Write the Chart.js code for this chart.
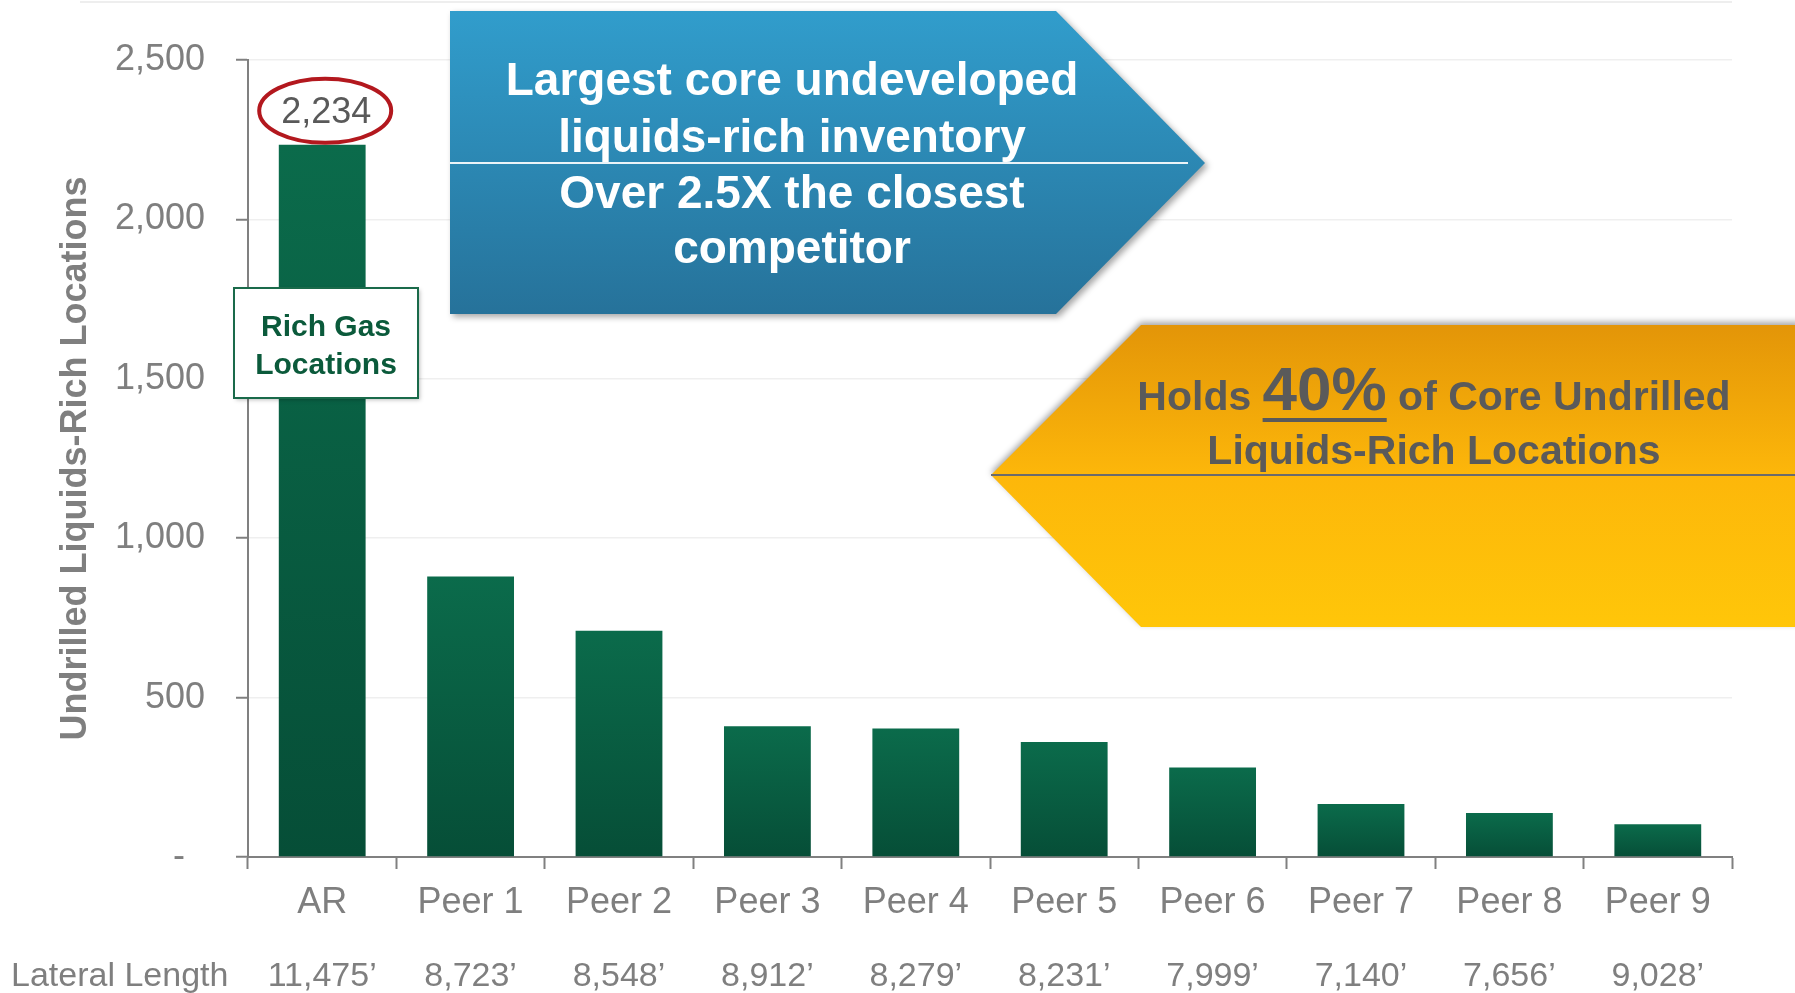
<!DOCTYPE html>
<html>
<head>
<meta charset="utf-8">
<script src="https://cdn.jsdelivr.net/npm/chart.js@4.4.1/dist/chart.umd.min.js"></script>
<style>
  html, body { margin: 0; padding: 0; background: #ffffff; }
  #wrap { width: 1795px; height: 993px; position: relative; }
</style>
</head>
<body>
<div id="wrap"><canvas id="invChart" width="1795" height="993"></canvas></div>
<script>
/* ── Data ── */
const companies = ['AR', 'Peer 1', 'Peer 2', 'Peer 3', 'Peer 4', 'Peer 5', 'Peer 6', 'Peer 7', 'Peer 8', 'Peer 9'];
const locations = [2234, 880, 710, 410, 403, 361, 281, 166, 138, 103];
const lateralLengths = ['11,475’', '8,723’', '8,548’', '8,912’', '8,279’', '8,231’', '7,999’', '7,140’', '7,656’', '9,028’'];
const yTicks = [0, 500, 1000, 1500, 2000, 2500];

const FONT = "'Liberation Sans', Arial, sans-serif";
const GREY = '#7f7f7f';

/* bar fill: each bar gets its own top-to-bottom gradient */
function barFill(ctx) {
    const chart = ctx.chart;
    const y = chart.scales.y;
    if (!chart.chartArea || !y || ctx.raw == null) return '#0a5c40';
    const top = y.getPixelForValue(ctx.raw);
    const bottom = y.getPixelForValue(0);
    const g = chart.ctx.createLinearGradient(0, top, 0, bottom);
    g.addColorStop(0, '#0b6b4b');
    g.addColorStop(1, '#064e37');
    return g;
}

/* ── Overlays: callouts, arrows, lateral length row ── */
const overlayPlugin = {
    id: 'overlays',
    beforeDraw(chart) {
        // faint slide rule along the top
        const c = chart.ctx;
        c.save();
        c.strokeStyle = '#eeeeee';
        c.lineWidth = 2;
        c.beginPath();
        c.moveTo(80, 2);
        c.lineTo(1732, 2);
        c.stroke();
        c.restore();
    },
    afterDraw(chart) {
        const c = chart.ctx;
        const x = chart.scales.x;
        const y = chart.scales.y;

        // value label with red ellipse on AR
        const arX = x.getPixelForValue(0);
        const arTop = y.getPixelForValue(locations[0]);
        c.save();
        c.font = `36px ${FONT}`;
        c.fillStyle = '#595959';
        c.textAlign = 'center';
        c.textBaseline = 'middle';
        c.fillText(locations[0].toLocaleString('en-US'), arX + 4, arTop - 32);
        c.beginPath();
        c.ellipse(arX + 3, arTop - 34, 66, 32, 0, 0, Math.PI * 2);
        c.strokeStyle = '#b3181e';
        c.lineWidth = 4;
        c.stroke();
        c.restore();

        // "Rich Gas Locations" box
        c.save();
        c.shadowColor = 'rgba(0,0,0,0.25)';
        c.shadowBlur = 4;
        c.shadowOffsetX = 2;
        c.shadowOffsetY = 2;
        c.fillStyle = '#ffffff';
        c.fillRect(234, 288, 184, 110);
        c.shadowColor = 'transparent';
        c.strokeStyle = '#1a6a4a';
        c.lineWidth = 2;
        c.strokeRect(234, 288, 184, 110);
        c.fillStyle = '#0b5a3b';
        c.font = `bold 30px ${FONT}`;
        c.textAlign = 'center';
        c.textBaseline = 'alphabetic';
        c.fillText('Rich Gas', 326, 336);
        c.fillText('Locations', 326, 374);
        c.restore();

        // blue arrow (pointing right)
        c.save();
        c.beginPath();
        c.moveTo(450, 11);
        c.lineTo(1056, 11);
        c.lineTo(1205, 163);
        c.lineTo(1056, 314);
        c.lineTo(450, 314);
        c.closePath();
        const gb = c.createLinearGradient(0, 11, 0, 314);
        gb.addColorStop(0, '#319dcc');
        gb.addColorStop(1, '#26729a');
        c.shadowColor = 'rgba(0,0,0,0.35)';
        c.shadowBlur = 6;
        c.shadowOffsetX = 3;
        c.shadowOffsetY = 3;
        c.fillStyle = gb;
        c.fill();
        c.shadowColor = 'transparent';
        c.strokeStyle = 'rgba(255,255,255,0.9)';
        c.lineWidth = 2;
        c.beginPath();
        c.moveTo(450, 163);
        c.lineTo(1188, 163);
        c.stroke();
        c.fillStyle = '#ffffff';
        c.font = `bold 46px ${FONT}`;
        c.textAlign = 'center';
        c.textBaseline = 'alphabetic';
        c.fillText('Largest core undeveloped', 792, 95);
        c.fillText('liquids-rich inventory', 792, 152);
        c.fillText('Over 2.5X the closest', 792, 208);
        c.fillText('competitor', 792, 263);
        c.restore();

        // orange arrow (pointing left, runs off the right edge)
        c.save();
        c.beginPath();
        c.moveTo(1141, 325);
        c.lineTo(1800, 325);
        c.lineTo(1800, 627);
        c.lineTo(1141, 627);
        c.lineTo(991, 475);
        c.closePath();
        const go = c.createLinearGradient(0, 325, 0, 627);
        go.addColorStop(0, '#e39508');
        go.addColorStop(0.5, '#fdb70a');
        go.addColorStop(1, '#ffc609');
        c.shadowColor = 'rgba(0,0,0,0.35)';
        c.shadowBlur = 6;
        c.shadowOffsetX = 0;
        c.shadowOffsetY = -3;
        c.fillStyle = go;
        c.fill();
        c.shadowColor = 'transparent';
        c.strokeStyle = '#6b6b6b';
        c.lineWidth = 2;
        c.beginPath();
        c.moveTo(991, 475);
        c.lineTo(1795, 475);
        c.stroke();

        c.fillStyle = '#5a5a5a';
        c.textBaseline = 'alphabetic';
        c.textAlign = 'left';
        const small = `bold 41px ${FONT}`;
        const big = `bold 62px ${FONT}`;
        const parts = [['Holds ', small], ['40%', big], [' of Core Undrilled', small]];
        let total = 0;
        parts.forEach(p => { c.font = p[1]; total += c.measureText(p[0]).width; });
        let px = 1434 - total / 2;
        parts.forEach(p => {
            c.font = p[1];
            const w = c.measureText(p[0]).width;
            c.fillText(p[0], px, 410);
            if (p[0] === '40%') c.fillRect(px, 418, w, 4);
            px += w;
        });
        c.font = small;
        c.textAlign = 'center';
        c.fillText('Liquids-Rich Locations', 1434, 464);
        c.restore();

        // lateral length row
        c.save();
        c.font = `34px ${FONT}`;
        c.fillStyle = GREY;
        c.textBaseline = 'middle';
        c.textAlign = 'left';
        c.fillText('Lateral Length', 11, 977);
        c.textAlign = 'center';
        lateralLengths.forEach((t, i) => c.fillText(t, x.getPixelForValue(i), 977));
        c.restore();
    }
};

new Chart(document.getElementById('invChart'), {
    type: 'bar',
    data: {
        labels: companies,
        datasets: [{
            label: 'Undrilled Liquids-Rich Locations',
            data: locations,
            backgroundColor: barFill,
            borderWidth: 0,
            barPercentage: 0.585,
            categoryPercentage: 1
        }]
    },
    options: {
        responsive: false,
        animation: false,
        devicePixelRatio: 1,
        layout: { padding: { top: 60, right: 63, left: 0, bottom: 0 } },
        plugins: { legend: { display: false }, tooltip: { enabled: false } },
        scales: {
            x: {
                offset: true,
                grid: {
                    offset: true,
                    drawOnChartArea: false,
                    drawTicks: true,
                    tickLength: 12,
                    tickColor: '#808080',
                    tickWidth: 2
                },
                border: { color: '#808080', width: 2 },
                ticks: { color: GREY, font: { size: 36, family: FONT }, padding: 12 },
                afterFit(scale) { scale.height = 136; }
            },
            y: {
                min: 0, max: 2500,
                afterBuildTicks(scale) { scale.ticks = yTicks.map(v => ({ value: v })); },
                grid: {
                    color: '#efefef',
                    lineWidth: 1.5,
                    tickLength: 12,
                    tickColor: '#808080',
                    tickWidth: 2
                },
                border: { color: '#808080', width: 2 },
                ticks: {
                    color: GREY,
                    font: { size: 36, family: FONT },
                    padding: 31,
                    callback: v => v === 0 ? '-  ' : v.toLocaleString('en-US')
                },
                title: {
                    display: true,
                    text: 'Undrilled Liquids-Rich Locations',
                    color: GREY,
                    font: { size: 36, weight: 'bold', family: FONT },
                    padding: { top: 54, bottom: 0 }
                },
                afterFit(scale) { scale.width = 248; }
            }
        }
    },
    plugins: [overlayPlugin]
});
</script>
</body>
</html>
